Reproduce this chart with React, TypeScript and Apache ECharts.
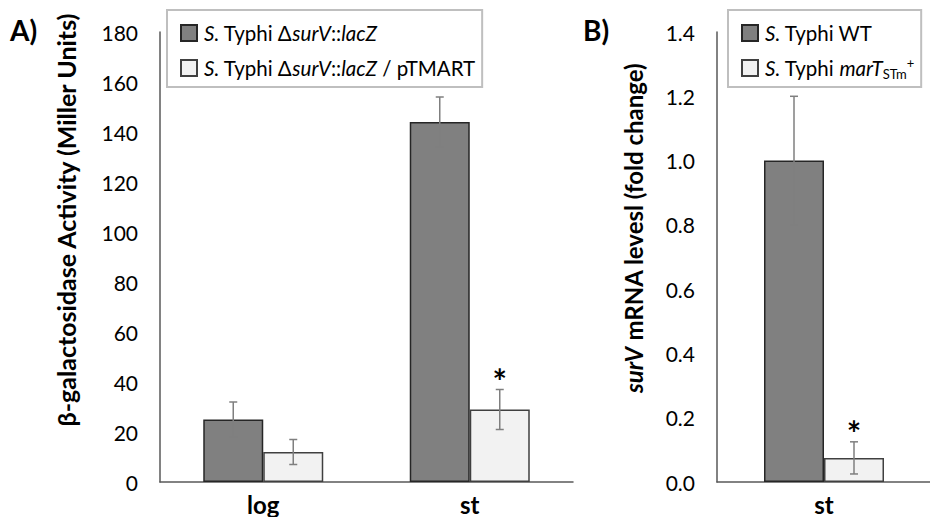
import React, { useEffect, useRef } from "react";
import * as echarts from "echarts";

// Panel A data
const catsA = ["log", "st"];
const darkA = [25, 144];
const darkErrA = [7, 10];
const lightA = [12, 29];
const lightErrA = [5, 8];
const lightSigA = [0, 1];

// Panel B data
const catsB = ["st"];
const darkB = [1.0];
const darkErrB = [0.2];
const lightB = [0.075];
const lightErrB = [0.05];
const lightSigB = [1];

const FONT = "Lato";
const DARK = "#808080";
const LIGHT = "#f2f2f2";
const LFS = 20.5;

function errData(vals: number[], errs: number[], sig: number[]) {
  return vals.map((v, i) => [i, v, errs[i], sig[i]]);
}

function errSeries(xi: number, data: number[][], offset: number) {
  return {
    type: "custom",
    xAxisIndex: xi,
    yAxisIndex: xi,
    clip: false,
    z: 5,
    encode: { x: 0, y: 1 },
    data,
    renderItem: (params: any, api: any) => {
      const ci = api.value(0);
      const v = api.value(1);
      const e = api.value(2);
      const s = api.value(3);
      const t = api.coord([ci, v + e]);
      const b = api.coord([ci, v - e]);
      const x = t[0] + offset;
      const st = { stroke: "#7f7f7f", lineWidth: 1.5 };
      const children: any[] = [
        { type: "line", shape: { x1: x, y1: t[1], x2: x, y2: b[1] }, style: st },
        { type: "line", shape: { x1: x - 4, y1: t[1], x2: x + 4, y2: t[1] }, style: st },
        { type: "line", shape: { x1: x - 4, y1: b[1], x2: x + 4, y2: b[1] }, style: st },
      ];
      if (s) {
        children.push({
          type: "text",
          x: x,
          y: t[1] - 9,
          style: {
            text: "*",
            fontSize: 34,
            fontWeight: "bold",
            fontFamily: FONT,
            fill: "#000",
            align: "center",
            verticalAlign: "middle",
          },
        });
      }
      return { type: "group", children };
    },
  };
}

const legendRich = {
  i: { fontStyle: "italic", fontSize: LFS, fontFamily: FONT, color: "#000" },
  sub: { fontStyle: "normal", fontSize: 13, fontFamily: FONT, color: "#000", verticalAlign: "bottom" },
  sup: { fontStyle: "normal", fontSize: 13, fontFamily: FONT, color: "#000", verticalAlign: "top" },
};

const legendNames: Record<string, string> = {
  dA: "{i|S.} Typhi Δ{i|surV}::{i|lacZ}",
  lA: "{i|S.} Typhi Δ{i|surV}::{i|lacZ} / pTMART",
  dB: "{i|S.} Typhi WT",
  lB: "{i|S.} Typhi {i|marT}{sub|STm}{sup|+}",
};

function legend(left: number, data: string[]) {
  return {
    orient: "vertical",
    left,
    top: 10,
    data,
    icon: "rect",
    itemWidth: 16,
    itemHeight: 16,
    itemGap: 11,
    padding: [11, 7, 7, 13],
    borderColor: "#bfbfbf",
    borderWidth: 2,
    backgroundColor: "#fff",
    formatter: (n: string) => legendNames[n],
    textStyle: { fontSize: LFS, fontFamily: FONT, color: "#000", lineHeight: 24, rich: legendRich, padding: [0, 0, 0, 2] },
  };
}

function yAxis(gi: number, max: number, interval: number, fmt?: (v: number) => string) {
  return {
    type: "value",
    gridIndex: gi,
    min: 0,
    max,
    interval,
    splitLine: { show: false },
    axisTick: { show: false },
    axisLine: { show: true, lineStyle: { color: "#595959", width: 1.5 } },
    axisLabel: { fontSize: 21, fontFamily: FONT, color: "#000", margin: 22, formatter: fmt },
  };
}

function xAxis(gi: number, cats: string[]) {
  return {
    type: "category",
    gridIndex: gi,
    data: cats,
    axisTick: { show: false },
    axisLine: { lineStyle: { color: "#595959", width: 1.5 } },
    axisLabel: { fontSize: 24, fontWeight: "bold", fontFamily: FONT, color: "#000", margin: 9, lineHeight: 26 },
  };
}

function bar(name: string, gi: number, data: number[], color: string, border: string) {
  return {
    name,
    type: "bar",
    xAxisIndex: gi,
    yAxisIndex: gi,
    data,
    barWidth: 60,
    barGap: "0%",
    itemStyle: { color, borderColor: border, borderWidth: 1.5 },
  };
}

export default function App() {
  const ref = useRef<HTMLDivElement>(null);
  useEffect(() => {
    const chart = echarts.init(ref.current!, null, { renderer: "svg" });
    chart.setOption({
      animation: false,
      backgroundColor: "#fff",
      textStyle: { fontFamily: FONT },
      grid: [
        { left: 160, right: 365, top: 32, bottom: 43 },
        { left: 717, right: 7, top: 32, bottom: 43 },
      ],
      xAxis: [xAxis(0, catsA), xAxis(1, catsB)],
      yAxis: [
        yAxis(0, 180, 20),
        yAxis(1, 1.4, 0.2, (v: number) => v.toFixed(1)),
      ],
      legend: [legend(167, ["dA", "lA"]), legend(728, ["dB", "lB"])],
      series: [
        bar("dA", 0, darkA, DARK, "#262626"),
        bar("lA", 0, lightA, LIGHT, "#404040"),
        bar("dB", 1, darkB, DARK, "#262626"),
        bar("lB", 1, lightB, LIGHT, "#404040"),
        errSeries(0, errData(darkA, darkErrA, [0, 0]), -30),
        errSeries(0, errData(lightA, lightErrA, lightSigA), 30),
        errSeries(1, errData(darkB, darkErrB, [0]), -30),
        errSeries(1, errData(lightB, lightErrB, lightSigB), 30),
      ],
      graphic: [
        {
          type: "text",
          left: 10,
          top: 16,
          style: { text: "A)", fontSize: 28, fontWeight: "bold", fontFamily: FONT, fill: "#000" },
        },
        {
          type: "text",
          left: 583,
          top: 16,
          style: { text: "B)", fontSize: 28, fontWeight: "bold", fontFamily: FONT, fill: "#000" },
        },
        {
          type: "text",
          x: 66,
          y: 220,
          rotation: Math.PI / 2,
          style: {
            text: "β-galactosidase Activity (Miller Units)",
            fontSize: 25,
            fontWeight: "bold",
            fontFamily: FONT,
            fill: "#000",
            align: "center",
            verticalAlign: "middle",
          },
        },
        {
          type: "text",
          x: 633,
          y: 228,
          rotation: Math.PI / 2,
          style: {
            text: "{i|surV} mRNA levesl (fold change)",
            fontSize: 24,
            fontWeight: "bold",
            fontFamily: FONT,
            fill: "#000",
            align: "center",
            verticalAlign: "middle",
            rich: { i: { fontStyle: "italic", fontWeight: "bold", fontSize: 24, fontFamily: FONT, fill: "#000" } },
          },
        },
      ],
    });
    return () => chart.dispose();
  }, []);
  return <div ref={ref} style={{ width: 938, height: 525, margin: -8 }} />;
}
